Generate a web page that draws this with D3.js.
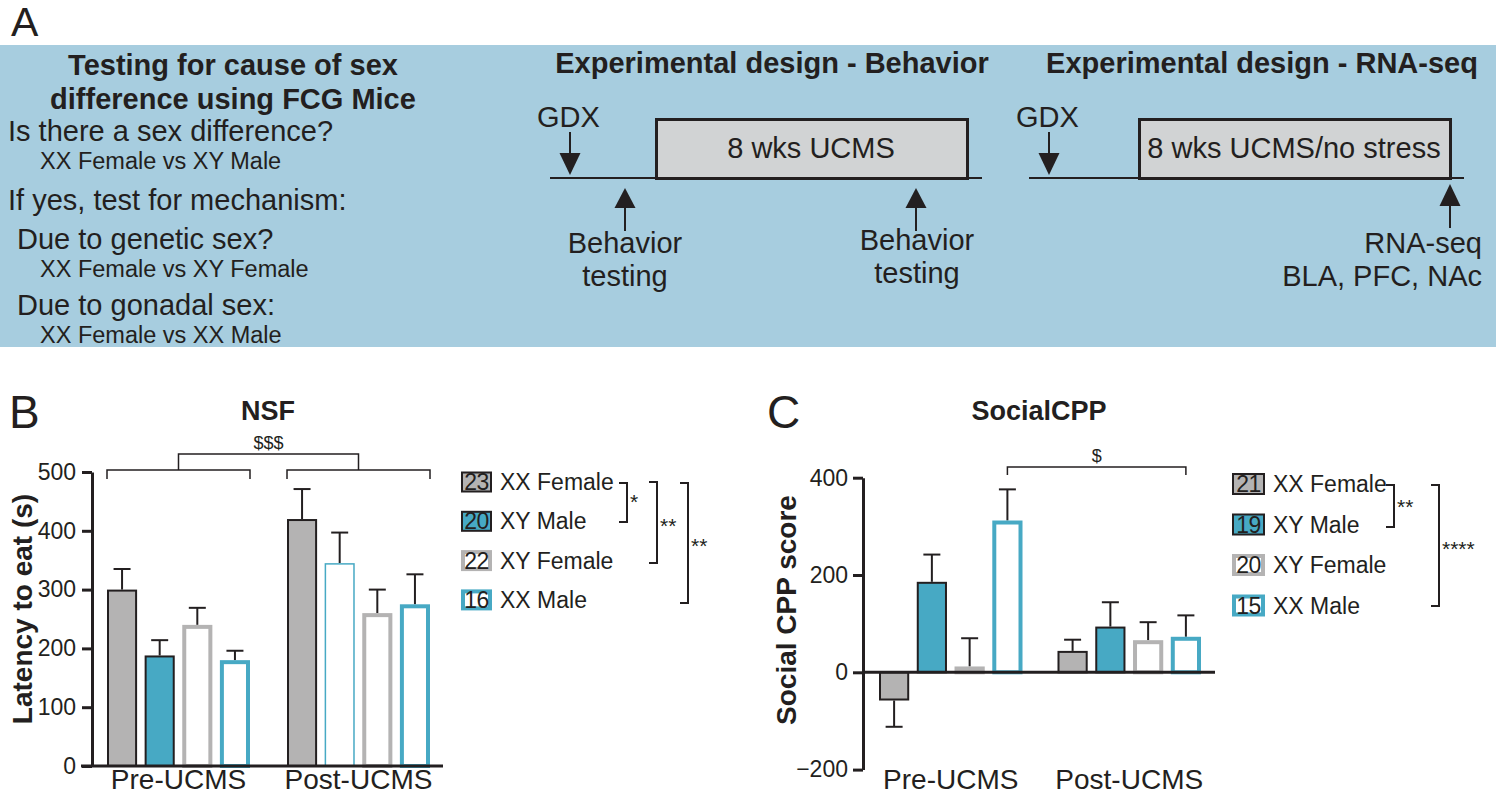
<!DOCTYPE html>
<html>
<head>
<meta charset="utf-8">
<script src="https://cdn.jsdelivr.net/npm/d3@7/dist/d3.min.js"></script>
<style>
  html, body { margin: 0; padding: 0; background: #ffffff; }
  svg { display: block; font-family: "Liberation Sans", Arial, Helvetica, sans-serif; }
</style>
</head>
<body>
<svg id="fig" width="1497" height="796"></svg>
<script>
// ---------------- DATA ----------------
const groups = ["Pre-UCMS", "Post-UCMS"];
const seriesNames = ["XX Female", "XY Male", "XY Female", "XX Male"];

// Panel B: NSF latency to eat (s)
const nsfN = [23, 20, 22, 16];
const nsfMean = [[300, 188, 240, 180], [420, 345, 260, 275]];
const nsfSem  = [[35, 26, 29, 16], [51, 52, 40, 51]];
const nsfTicks = [0, 100, 200, 300, 400, 500];

// Panel C: Social CPP score
const cppN = [21, 19, 20, 15];
const cppMean = [[-58, 186, 12, 312], [44, 94, 66, 73]];
const cppSem  = [[54, 56, 58, 64], [23, 50, 37, 44]];
const cppTicks = [-200, 0, 200, 400];

// Panel A texts
const leftTitle = ["Testing for cause of sex", "difference using FCG Mice"];
const leftLines = [
  ["Is there a sex difference?", 0],
  ["XX Female vs XY Male", 1],
  ["If yes, test for mechanism:", 0],
  ["Due to genetic sex?", 2],
  ["XX Female vs XY Female", 1],
  ["Due to gonadal sex:", 2],
  ["XX Female vs XX Male", 1]
];

// ---------------- STYLES ----------------
const INK = "#231f20";
const GRAY = "#b4b3b3";
const TEAL = "#47a9c4";
const BG = "#a7cddf";
const BOXFILL = "#d1d3d4";
const seriesStyle = [
  { fill: GRAY, stroke: INK, sw: 2 },
  { fill: TEAL, stroke: INK, sw: 2 },
  { fill: "#ffffff", stroke: GRAY, sw: 4 },
  { fill: "#ffffff", stroke: TEAL, sw: 4 }
];

const svg = d3.select("#fig");

// ---------------- PANEL A ----------------
svg.append("text").attr("x", 11).attr("y", 36).attr("font-size", 41).attr("fill", INK).text("A");
svg.append("rect").attr("x", 0).attr("y", 45).attr("width", 1496).attr("height", 302).attr("fill", BG);

const A = svg.append("g").attr("fill", INK);
A.selectAll("text.lt").data(leftTitle).join("text")
  .attr("x", 233).attr("y", (d, i) => 75 + i * 34)
  .attr("text-anchor", "middle").attr("font-weight", "bold").attr("font-size", 29).text(d => d);
const lineY = [141, 169, 210, 249, 277, 315, 343];
const lineX = [8, 40, 17];
A.selectAll("text.ll").data(leftLines).join("text")
  .attr("x", d => lineX[d[1]]).attr("y", (d, i) => lineY[i])
  .attr("font-size", d => d[1] === 1 ? 23.5 : 29).text(d => d[0]);

function arrow(g, x, tipY, baseY, tailY) {
  g.append("line").attr("x1", x).attr("x2", x).attr("y1", tailY).attr("y2", baseY)
    .attr("stroke", INK).attr("stroke-width", 2);
  g.append("path").attr("d", `M${x - 10.5},${baseY} L${x + 10.5},${baseY} L${x},${tipY} Z`).attr("fill", INK);
}

// Behavior design
A.append("text").attr("x", 772).attr("y", 73).attr("text-anchor", "middle")
  .attr("font-weight", "bold").attr("font-size", 29).text("Experimental design - Behavior");
A.append("text").attr("x", 537).attr("y", 127).attr("font-size", 29).text("GDX");
arrow(A, 570, 175, 153, 132);
A.append("line").attr("x1", 550).attr("x2", 982).attr("y1", 178).attr("y2", 178).attr("stroke", INK).attr("stroke-width", 2);
A.append("rect").attr("x", 656.5).attr("y", 119.5).attr("width", 311).attr("height", 59)
  .attr("fill", BOXFILL).attr("stroke", INK).attr("stroke-width", 3);
A.append("text").attr("x", 811).attr("y", 158).attr("text-anchor", "middle").attr("font-size", 29).text("8 wks UCMS");
arrow(A, 625, 188, 208, 231);
arrow(A, 916, 188, 208, 231);
A.append("text").attr("x", 625).attr("y", 253).attr("text-anchor", "middle").attr("font-size", 29).text("Behavior");
A.append("text").attr("x", 625).attr("y", 286).attr("text-anchor", "middle").attr("font-size", 29).text("testing");
A.append("text").attr("x", 917).attr("y", 250).attr("text-anchor", "middle").attr("font-size", 29).text("Behavior");
A.append("text").attr("x", 917).attr("y", 283).attr("text-anchor", "middle").attr("font-size", 29).text("testing");

// RNA-seq design
A.append("text").attr("x", 1262).attr("y", 73).attr("text-anchor", "middle")
  .attr("font-weight", "bold").attr("font-size", 29).text("Experimental design - RNA-seq");
A.append("text").attr("x", 1016).attr("y", 127).attr("font-size", 29).text("GDX");
arrow(A, 1049, 175, 153, 132);
A.append("line").attr("x1", 1029).attr("x2", 1464).attr("y1", 178).attr("y2", 178).attr("stroke", INK).attr("stroke-width", 2);
A.append("rect").attr("x", 1139.5).attr("y", 119.5).attr("width", 311).attr("height", 59)
  .attr("fill", BOXFILL).attr("stroke", INK).attr("stroke-width", 3);
A.append("text").attr("x", 1294).attr("y", 158).attr("text-anchor", "middle").attr("font-size", 29).text("8 wks UCMS/no stress");
arrow(A, 1450, 184, 206, 228);
A.append("text").attr("x", 1482).attr("y", 253).attr("text-anchor", "end").attr("font-size", 29).text("RNA-seq");
A.append("text").attr("x", 1482).attr("y", 286).attr("text-anchor", "end").attr("font-size", 29).text("BLA, PFC, NAc");

// ---------------- BAR PANEL HELPER ----------------
function barPanel(cfg) {
  const g = svg.append("g");
  const y = d3.scaleLinear().domain(cfg.domain).range(cfg.yRange);
  const x0 = d3.scaleBand().domain(groups).range(cfg.xRange).paddingInner(cfg.pad).paddingOuter(0);
  const x1 = d3.scaleBand().domain(d3.range(seriesNames.length)).range([0, x0.bandwidth()]).paddingInner(0.2);

  // panel letter and title
  g.append("text").attr("x", cfg.letterX).attr("y", 428).attr("font-size", 46).attr("fill", INK).text(cfg.letter);
  g.append("text").attr("x", cfg.titleX).attr("y", 420).attr("text-anchor", "middle")
    .attr("font-weight", "bold").attr("font-size", 27).attr("fill", INK).text(cfg.title);

  // y axis
  const yAxis = d3.axisLeft(y).tickValues(cfg.ticks).tickSize(10).tickPadding(cfg.tickPad).tickSizeOuter(0)
    .tickFormat(d3.format("d"));
  const ay = g.append("g").attr("transform", `translate(${cfg.axisX},0)`).call(yAxis);
  ay.attr("font-size", 23).attr("font-family", null);
  ay.select(".domain").attr("stroke", INK).attr("stroke-width", 3);
  ay.selectAll(".tick line").attr("stroke", INK).attr("stroke-width", 3);
  ay.selectAll(".tick text").attr("font-size", 23).attr("fill", INK);

  // y label
  g.append("text").attr("transform", `translate(${cfg.ylabX},${cfg.ylabY}) rotate(-90)`)
    .attr("text-anchor", "middle").attr("font-weight", "bold").attr("font-size", 28).attr("fill", INK).text(cfg.ylabel);

  // bars
  cfg.mean.forEach((vals, gi) => {
    const gg = g.append("g").attr("transform", `translate(${x0(groups[gi])},0)`);
    vals.forEach((v, si) => {
      let st = seriesStyle[si];
      if (cfg.override && cfg.override(gi, si)) st = cfg.override(gi, si);
      const bx = x1(si), bw = x1.bandwidth();
      const top = y(Math.max(v, 0)), bot = y(Math.min(v, 0));
      const inset = st.sw / 2;
      const cx = bx + bw / 2;
      const e = cfg.sem[gi][si];
      const eEnd = v >= 0 ? y(v + e) : y(v - e);
      const eStart = v >= 0 ? top : bot;
      gg.append("line").attr("x1", cx).attr("x2", cx).attr("y1", eStart).attr("y2", eEnd)
        .attr("stroke", INK).attr("stroke-width", 2);
      gg.append("line").attr("x1", cx - 8.5).attr("x2", cx + 8.5).attr("y1", eEnd).attr("y2", eEnd)
        .attr("stroke", INK).attr("stroke-width", 2);
      gg.append("rect").attr("x", bx + inset).attr("y", top + (v >= 0 ? inset : 0))
        .attr("width", bw - 2 * inset).attr("height", Math.max(0, bot - top - inset))
        .attr("fill", st.fill).attr("stroke", st.stroke).attr("stroke-width", st.sw);
    });
  });

  // x axis baseline and labels
  g.append("line").attr("x1", cfg.baseX1).attr("x2", cfg.baseX2).attr("y1", y(0)).attr("y2", y(0))
    .attr("stroke", INK).attr("stroke-width", 3);
  g.selectAll("text.xl").data(groups).join("text")
    .attr("x", d => x0(d) + x0.bandwidth() / 2).attr("y", 789)
    .attr("text-anchor", "middle").attr("font-size", 28).attr("fill", INK).text(d => d);

  // legend
  const L = g.append("g");
  seriesNames.forEach((name, si) => {
    const st = seriesStyle[si];
    const cy = cfg.legY + si * cfg.legStep;
    const inset = st.sw / 2;
    L.append("rect").attr("x", cfg.legX + inset).attr("y", cy - cfg.swH / 2 + inset)
      .attr("width", cfg.swW - 2 * inset).attr("height", cfg.swH - 2 * inset)
      .attr("fill", st.fill).attr("stroke", st.stroke).attr("stroke-width", st.sw);
    L.append("text").attr("x", cfg.legX + cfg.swW / 2).attr("y", cy + 8).attr("text-anchor", "middle")
      .attr("font-size", 23).attr("fill", INK).attr("letter-spacing", -0.5).text(cfg.n[si]);
    L.append("text").attr("x", cfg.legX + cfg.swW + 8).attr("y", cy + 8)
      .attr("font-size", 23).attr("fill", INK).text(name);
  });
  // legend significance brackets
  cfg.legBrackets.forEach(b => {
    L.append("path").attr("d", `M${b.x - 8},${b.y1} H${b.x} V${b.y2} H${b.x - 8}`)
      .attr("fill", "none").attr("stroke", INK).attr("stroke-width", 2);
    L.append("text").attr("x", b.x + 3).attr("y", (b.y1 + b.y2) / 2 + b.dy)
      .attr("font-size", 21).attr("fill", INK).text(b.label);
  });

  return { g, x0, x1, y };
}

// ---------------- PANEL B ----------------
const B = barPanel({
  letter: "B", letterX: 9, title: "NSF", titleX: 268,
  domain: [0, 500], yRange: [766, 472], xRange: [107, 430], pad: 0.2056,
  ticks: nsfTicks, tickPad: 6, axisX: 92, baseX1: 81, baseX2: 443,
  ylabel: "Latency to eat (s)", ylabX: 32, ylabY: 609,
  mean: nsfMean, sem: nsfSem, n: nsfN,
  override: (gi, si) => (gi === 1 && si === 1) ? { fill: "#ffffff", stroke: TEAL, sw: 1.5 } : null,
  legX: 461, legY: 482, legStep: 39.3, swW: 31, swH: 21,
  legBrackets: [
    { x: 627, y1: 483, y2: 522, label: "*", dy: 6 },
    { x: 657, y1: 482, y2: 563, label: "**", dy: 10 },
    { x: 688, y1: 483, y2: 603, label: "**", dy: 10 }
  ]
});
// $$$ brackets (Pre vs Post)
(function () {
  const { g, x0 } = B;
  const yb = 470, ytop = 454, drop = 9;
  groups.forEach(gr => {
    const a = x0(gr), b = a + x0.bandwidth();
    g.append("path").attr("d", `M${a},${yb + drop} V${yb} H${b} V${yb + drop}`)
      .attr("fill", "none").attr("stroke", INK).attr("stroke-width", 1.5);
  });
  const c1 = x0(groups[0]) + x0.bandwidth() / 2, c2 = x0(groups[1]) + x0.bandwidth() / 2;
  g.append("path").attr("d", `M${c1},${yb} V${ytop} H${c2} V${yb}`)
    .attr("fill", "none").attr("stroke", INK).attr("stroke-width", 1.5);
  g.append("text").attr("x", (c1 + c2) / 2).attr("y", 449).attr("text-anchor", "middle")
    .attr("font-size", 18).attr("fill", INK).text("$$$");
})();

// ---------------- PANEL C ----------------
const C = barPanel({
  letter: "C", letterX: 767, title: "SocialCPP", titleX: 1039,
  domain: [-200, 400], yRange: [769.6, 477.7], xRange: [879, 1201], pad: 0.196,
  ticks: cppTicks, tickPad: 5, axisX: 863, baseX1: 863, baseX2: 1215,
  ylabel: "Social CPP score", ylabX: 796, ylabY: 610,
  mean: cppMean, sem: cppSem, n: cppN,
  override: null,
  legX: 1232, legY: 484, legStep: 40.5, swW: 33, swH: 22,
  legBrackets: [
    { x: 1394, y1: 485, y2: 527, label: "**", dy: 8 },
    { x: 1439, y1: 485, y2: 606, label: "****", dy: 10 }
  ]
});
// $ bracket: Pre XX Male vs Post XX Male
(function () {
  const { g, x0, x1 } = C;
  const a = x0(groups[0]) + x1(3) + x1.bandwidth() / 2;
  const b = x0(groups[1]) + x1(3) + x1.bandwidth() / 2;
  g.append("path").attr("d", `M${a},475 V467 H${b} V475`)
    .attr("fill", "none").attr("stroke", INK).attr("stroke-width", 1.5);
  g.append("text").attr("x", (a + b) / 2).attr("y", 462).attr("text-anchor", "middle")
    .attr("font-size", 18).attr("fill", INK).text("$");
})();
</script>
</body>
</html>
